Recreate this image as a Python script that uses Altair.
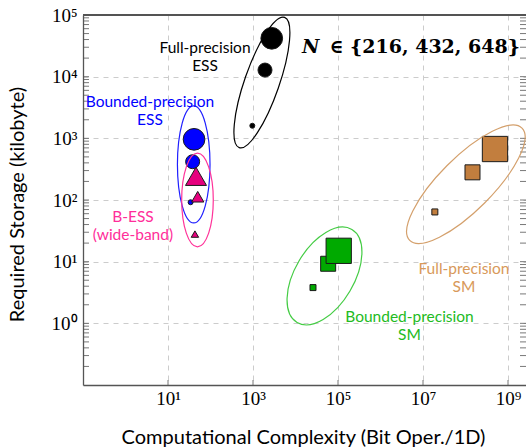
import altair as alt
import pandas as pd

# Block sizes shared by every scheme
N_VALUES = [216, 432, 648]

# Complexity (bit operations per 1D) and storage (kB) for each scheme
fp_ess_complexity = [964, 1915, 2760]
fp_ess_storage = [1600, 12800, 41900]
bp_ess_complexity = [34, 38, 41]
bp_ess_storage = [92, 418, 964]
bess_complexity = [43, 50, 45.6]
bess_storage = [28, 113, 242]
bp_sm_complexity = [25800, 58700, 104000]
bp_sm_storage = [3.8, 9.25, 15.0]
fp_sm_complexity = [1.9e7, 1.46e8, 4.94e8]
fp_sm_storage = [64, 281, 671]

x_tick_values = [1e1, 1e3, 1e5, 1e7, 1e9]
y_tick_values = [1e0, 1e1, 1e2, 1e3, 1e4, 1e5]

W, H = 443, 370
SANS = "Lato"


def frame(name, xs, ys):
    return pd.DataFrame({"scheme": name, "N": N_VALUES, "complexity": xs, "storage": ys})


circles = pd.concat([
    frame("Full-precision ESS", fp_ess_complexity, fp_ess_storage),
    frame("Bounded-precision ESS", bp_ess_complexity, bp_ess_storage),
])
triangles = frame("B-ESS (wide-band)", bess_complexity, bess_storage)
squares = pd.concat([
    frame("Bounded-precision SM", bp_sm_complexity, bp_sm_storage),
    frame("Full-precision SM", fp_sm_complexity, fp_sm_storage),
])

schemes = ["Full-precision ESS", "Bounded-precision ESS", "B-ESS (wide-band)",
           "Bounded-precision SM", "Full-precision SM"]
fills = ["#000000", "#0000ff", "#e6007e", "#00aa00", "#c27e3e"]
color = alt.Color("scheme:N", scale=alt.Scale(domain=schemes, range=fills), legend=None)

xscale = alt.Scale(type="log", domain=[1e-1, 10 ** (-1 + W / 42.5)], nice=False)
yscale = alt.Scale(type="log", domain=[1e-1, 1e5], nice=False)

sup = "['⁰','¹','²','³','⁴','⁵','⁶','⁷','⁸','⁹'][round(log(datum.value)/LN10)]"
X = alt.X("complexity:Q", scale=xscale, axis=alt.Axis(
    values=x_tick_values, labelExpr="'10' + " + sup, grid=True, ticks=False,
    title="Computational Complexity (Bit Oper./1D)", titleX=220, titleY=52,
    titleAlign="center", titleBaseline="middle"))
Y = alt.Y("storage:Q", scale=yscale, axis=alt.Axis(
    values=y_tick_values, labelExpr="'10' + " + sup, grid=True, ticks=False,
    title="Required Storage (kilobyte)", titleX=-66, titleY=189, titleAngle=270,
    titleAlign="center", titleBaseline="middle"))


def markers(df, shape, sizes):
    return alt.Chart(df).mark_point(shape=shape, filled=True, opacity=1,
                                    stroke="#1a1a1a", strokeWidth=1).encode(
        x=X, y=Y, color=color,
        size=alt.Size("N:O", scale=alt.Scale(type="ordinal", domain=N_VALUES, range=sizes),
                      legend=None),
    )


def ellipse(cx, cy, a, b, tilt, col):
    """Outline ellipse: semi-axes a, b in pixels, major axis tilted `tilt` degrees above horizontal."""
    r = b / a
    path = f"M -1 0 A 1 {r:.4f} 0 1 1 1 0 A 1 {r:.4f} 0 1 1 -1 0 Z"
    return alt.Chart(pd.DataFrame({"complexity": [cx], "storage": [cy]})).mark_point(
        shape=path, size=4 * a * a, angle=(360 - tilt) % 360, filled=False,
        stroke=col, strokeWidth=1.2, opacity=1).encode(x=X, y=Y)


def label(cx, cy, text, col, size=15.5, font=SANS, **kw):
    return alt.Chart(pd.DataFrame({"complexity": [cx], "storage": [cy], "t": [text]})).mark_text(
        font=font, fontSize=size, color=col, lineHeight=18, lineBreak="\n", **kw
    ).encode(x=X, y=Y, text="t:N")


# inward tick marks along the left, right and bottom frame
minor_y = [k * 10.0 ** d for d in range(-1, 5) for k in range(1, 10) if k * 10.0 ** d > 0.1]
ytick_df = pd.DataFrame({"storage": minor_y})
xtick_df = pd.DataFrame({"complexity": x_tick_values})
ticks_left = alt.Chart(ytick_df).mark_rule(color="#555555", strokeWidth=0.8).encode(
    y=Y, x=alt.value(0), x2=alt.value(6))
ticks_right = alt.Chart(ytick_df).mark_rule(color="#555555", strokeWidth=0.8).encode(
    y=Y, x=alt.value(W - 6), x2=alt.value(W))
ticks_bottom = alt.Chart(xtick_df).mark_rule(color="#555555", strokeWidth=0.8).encode(
    x=X, y=alt.value(H), y2=alt.value(H - 5))
top_border = alt.Chart(xtick_df).mark_rule(color="#555555", strokeWidth=1.3).encode(
    x=alt.value(0), x2=alt.value(W), y=alt.value(0))

layers = [
    ticks_left, ticks_right, ticks_bottom, top_border,
    markers(circles, "circle", [25, 196, 470]),
    markers(triangles, "triangle-up", [55, 150, 441]),
    markers(squares, "square", [36, 225, 640]),
    ellipse(1620, 8040, 69, 17.3, 70.8, "#000000"),
    ellipse(40.3, 377, 58.5, 16.3, 90, "#1f1fff"),
    ellipse(49.4, 100, 46.8, 15.8, 90, "#ff3399"),
    ellipse(48100, 5.86, 54, 29.6, 59.5, "#44cc44"),
    ellipse(1.02e8, 180, 79.4, 26.5, 45, "#d4a06c"),
    label(74.3, 29200, "Full-precision\nESS", "#000000"),
    label(3.77, 3880, "Bounded-precision\nESS", "#0000ff"),
    label(1.5, 53, "B-ESS\n(wide-band)", "#ff2e9a"),
    label(4.81e6, 1.29, "Bounded-precision\nSM", "#22bb22"),
    label(9.2e7, 7.6, "Full-precision\nSM", "#d8995a"),
    label(14200, 30300, "N", "#000000", size=19, font="DejaVu Serif",
          fontWeight="bold", fontStyle="italic", align="left"),
    label(1.91e9, 30300, "∈ {216, 432, 648}", "#000000", size=19, font="DejaVu Serif",
          fontWeight="bold", align="right"),
]

chart = alt.layer(*layers).resolve_scale(size="independent").properties(
    width=W, height=H,
    autosize=alt.AutoSizeParams(type="none"),
    padding={"left": 83, "top": 15, "right": 0, "bottom": 63},
).configure_view(stroke=None).configure_axis(
    labelFont="Liberation Serif", labelFontSize=19, labelColor="#000000",
    titleFont=SANS, titleFontSize=20, titleFontWeight="normal", titleColor="#000000",
    domainColor="#555555", domainWidth=1.3,
    gridColor="#cccccc", gridDash=[5, 5], gridWidth=1,
).configure_axisY(labelPadding=6).configure_axisX(labelPadding=4)

chart.save("out.html", embed_options={"renderer": "svg", "actions": False})
